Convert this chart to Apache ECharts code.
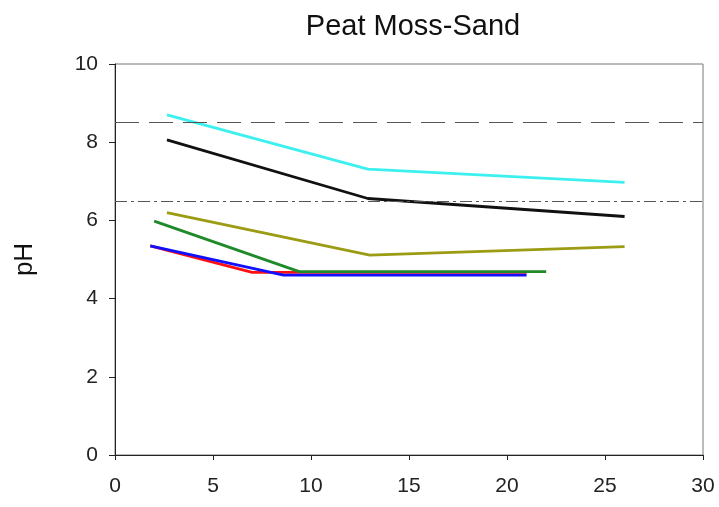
<!DOCTYPE html>
<html><head><meta charset="utf-8">
<script src="https://cdn.jsdelivr.net/npm/echarts@6/dist/echarts.min.js"></script>
<style>html,body{margin:0;padding:0;background:#fff}#c{width:719px;height:507px}</style>
</head><body><div id="c"></div>
<script>
const titleText = "Peat Moss-Sand";
const yName = "pH";
const refDashed = 8.5;
const refDashDot = 6.5;
const redData   = [[1.8, 5.35], [7.0, 4.67], [21, 4.67]];
const greenData = [[2.0, 5.98], [9.4, 4.69], [22, 4.69]];
const blueData  = [[1.8, 5.35], [8.6, 4.60], [21, 4.60]];
const oliveData = [[2.65, 6.20], [13, 5.11], [26, 5.33]];
const blackData = [[2.65, 8.06], [12.9, 6.56], [26, 6.10]];
const cyanData  = [[2.65, 8.70], [12.9, 7.31], [26, 6.97]];

const chart = echarts.init(document.getElementById('c'), null, {renderer: 'canvas'});
const font = 'Liberation Sans, Arial, sans-serif';
function line(name, data, color) {
  return { name, type: 'line', data, symbol: 'none', lineStyle: { color, width: 2.8 }, itemStyle: { color }, z: 3 };
}
chart.setOption({
  backgroundColor: '#fff',
  animation: false,
  title: { text: titleText, left: 408, top: 7, textAlign: 'center',
    textStyle: { fontFamily: font, fontSize: 29, fontWeight: 'normal', color: '#111' } },
  grid: { left: 115, right: 16, top: 64, bottom: 52, show: true, borderColor: '#777', borderWidth: 1, backgroundColor: 'transparent' },
  xAxis: { type: 'value', min: 0, max: 30, interval: 5,
    axisLine: { show: true, lineStyle: { color: '#222', width: 1 } },
    axisTick: { show: true, inside: false, length: 5, lineStyle: { color: '#222' } },
    axisLabel: { fontFamily: font, fontSize: 21, color: '#222', margin: 21 },
    splitLine: { show: false } },
  yAxis: { type: 'value', min: 0, max: 10, interval: 2,
    name: yName, nameLocation: 'middle', nameGap: 77, nameRotate: 90,
    nameTextStyle: { fontFamily: font, fontSize: 26, color: '#111' },
    axisLine: { show: true, lineStyle: { color: '#222', width: 1 } },
    axisTick: { show: true, inside: false, length: 6, lineStyle: { color: '#222' } },
    axisLabel: { fontFamily: font, fontSize: 21, color: '#222', margin: 17 },
    splitLine: { show: false } },
  series: [
    { type: 'line', data: [], silent: true,
      markLine: { silent: true, symbol: 'none', label: { show: false },
        data: [
          { yAxis: refDashed, lineStyle: { color: '#555', width: 1.2, type: [24, 10] } },
          { yAxis: refDashDot, lineStyle: { color: '#555', width: 1.2, type: [12, 4, 3, 4] } }
        ] } },
    line('red', redData, '#ff1010'),
    line('green', greenData, '#1f8a2a'),
    line('blue', blueData, '#1010ff'),
    line('olive', oliveData, '#9c9c14'),
    line('black', blackData, '#111111'),
    line('cyan', cyanData, '#3cf0f0')
  ]
});
</script></body></html>
